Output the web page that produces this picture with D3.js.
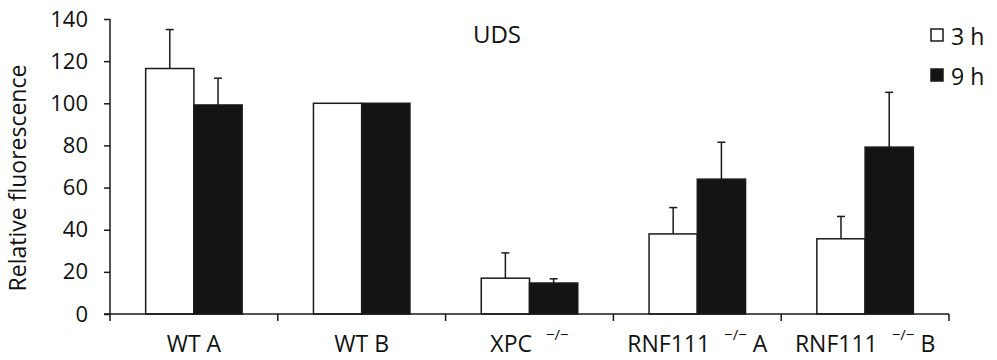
<!DOCTYPE html>
<html>
<head>
<meta charset="utf-8">
<script src="https://cdn.jsdelivr.net/npm/d3@7"></script>
<style>
  body { margin: 0; background: #fff; }
  svg { display: block; font-family: "Open Sans", "Noto Sans", sans-serif; }
</style>
</head>
<body>
<svg id="chart" width="997" height="360"></svg>
<script>
// values
const groups = ["WT A", "WT B", "XPC", "RNF111 A", "RNF111 B"];
const series = ["3 h", "9 h"];
const mean3h = [116.5, 100, 17, 38, 35.7];
const mean9h = [99.2, 100, 14.7, 64, 79.2];
const err3h = [18.5, 0, 12, 12.5, 10.6];
const err9h = [12.7, 0, 2, 17.5, 26];
const yTicks = [0, 20, 40, 60, 80, 100, 120, 140];
// label parts: main, superscript, suffix
const labelParts = [
  ["WT A", "", ""],
  ["WT B", "", ""],
  ["XPC", "\u2212/\u2212", ""],
  ["RNF111", "\u2212/\u2212", "A"],
  ["RNF111", "\u2212/\u2212", "B"]
];

const ink = "#1a1a1a";
const svg = d3.select("#chart");
const plot = { left: 110, right: 949, top: 19, bottom: 314 };

const rows = groups.map((g, i) => ({
  group: g,
  vals: [
    { key: series[0], v: mean3h[i], e: err3h[i] },
    { key: series[1], v: mean9h[i], e: err9h[i] }
  ]
}));

const x = d3.scaleBand()
  .domain(groups)
  .range([plot.left, plot.right])
  .paddingInner(0.425)
  .paddingOuter(0.2125);

const xs = d3.scaleBand()
  .domain(series)
  .range([0, x.bandwidth()]);

const y = d3.scaleLinear()
  .domain([0, 140])
  .range([plot.bottom, plot.top]);

const color = d3.scaleOrdinal().domain(series).range(["#ffffff", "#141414"]);

// bars
const g = svg.append("g").selectAll("g").data(rows).join("g")
  .attr("transform", d => `translate(${x(d.group)},0)`);

g.selectAll("rect").data(d => d.vals).join("rect")
  .attr("x", d => xs(d.key))
  .attr("y", d => y(d.v))
  .attr("width", xs.bandwidth())
  .attr("height", d => y(0) - y(d.v))
  .attr("fill", d => color(d.key))
  .attr("stroke", ink)
  .attr("stroke-width", 1.5);

// error bars (upper only)
const eb = g.selectAll("g.err").data(d => d.vals.filter(v => v.e > 0)).join("g")
  .attr("class", "err");
eb.append("line")
  .attr("x1", d => xs(d.key) + xs.bandwidth() / 2)
  .attr("x2", d => xs(d.key) + xs.bandwidth() / 2)
  .attr("y1", d => y(d.v))
  .attr("y2", d => y(d.v + d.e))
  .attr("stroke", ink).attr("stroke-width", 1.5);
eb.append("line")
  .attr("x1", d => xs(d.key) + xs.bandwidth() / 2 - 4)
  .attr("x2", d => xs(d.key) + xs.bandwidth() / 2 + 4)
  .attr("y1", d => y(d.v + d.e))
  .attr("y2", d => y(d.v + d.e))
  .attr("stroke", ink).attr("stroke-width", 1.5);

// y axis
const yAxis = svg.append("g")
  .attr("transform", `translate(${plot.left},0)`)
  .call(d3.axisLeft(y).tickValues(yTicks).tickSize(6).tickPadding(16));
yAxis.select(".domain").attr("stroke", ink).attr("stroke-width", 1.5)
  .attr("d", `M0,${plot.top}V${plot.bottom}`);
yAxis.selectAll(".tick line").attr("stroke", ink).attr("stroke-width", 1.5);
yAxis.selectAll(".tick text")
  .attr("font-size", 22).attr("fill", "#111")
  .attr("font-family", "'Open Sans', sans-serif");

// x axis line with ticks at group boundaries
const bounds = d3.range(groups.length + 1).map(i => plot.left + i * x.step());
svg.append("line")
  .attr("x1", plot.left - 6).attr("x2", plot.right)
  .attr("y1", y(0)).attr("y2", y(0))
  .attr("stroke", ink).attr("stroke-width", 1.5);
svg.append("g").selectAll("line").data(bounds).join("line")
  .attr("x1", d => d).attr("x2", d => d)
  .attr("y1", y(0)).attr("y2", y(0) + 7)
  .attr("stroke", ink).attr("stroke-width", 1.5);

// category labels
const lab = svg.append("g").selectAll("text").data(labelParts).join("text")
  .attr("x", (d, i) => x(groups[i]) + x.bandwidth() / 2)
  .attr("y", 352)
  .attr("text-anchor", "middle")
  .attr("font-size", 23)
  .attr("fill", "#111");
lab.each(function (d) {
  const t = d3.select(this);
  t.append("tspan").text(d[0]);
  if (d[1]) {
    t.append("tspan").attr("dx", 14).attr("dy", -12).attr("font-size", 15).text(d[1]);
  }
  if (d[2]) {
    t.append("tspan").attr("dx", 6).attr("dy", 12).text(d[2]);
  }
});

// y axis title
svg.append("text")
  .attr("transform", "translate(26,178) rotate(-90)")
  .attr("text-anchor", "middle")
  .attr("font-size", 23)
  .attr("fill", "#111")
  .text("Relative fluorescence");

// chart title
svg.append("text")
  .attr("x", 497).attr("y", 43)
  .attr("text-anchor", "middle")
  .attr("font-size", 24)
  .attr("fill", "#111")
  .text("UDS");

// legend
const leg = svg.append("g").selectAll("g").data(series).join("g")
  .attr("transform", (d, i) => `translate(931,${29 + i * 40})`);
leg.append("rect")
  .attr("width", 12).attr("height", 12)
  .attr("fill", d => color(d))
  .attr("stroke", ink).attr("stroke-width", 1.5);
leg.append("text")
  .attr("x", 20).attr("y", 16)
  .attr("font-size", 23)
  .attr("fill", "#111")
  .text(d => d);
</script>
</body>
</html>
